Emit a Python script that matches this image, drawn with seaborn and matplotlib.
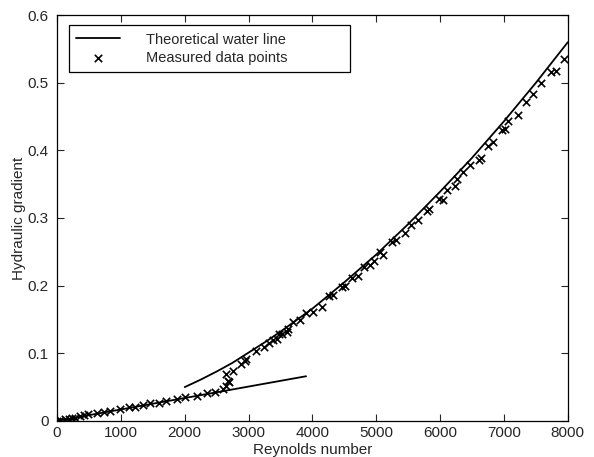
import numpy as np
import matplotlib
matplotlib.use("Agg")
import matplotlib.pyplot as plt
import seaborn as sns
import pandas as pd

# Theoretical lines
lam_re = [0, 3900]
lam_grad = [0.0, 0.066]
turb_re = [2000, 2250, 2500, 2750, 3000, 3250, 3500, 4000, 4500, 5000, 5500, 6000,
           6500, 7000, 7500, 8000]
turb_grad = [0.050, 0.061, 0.073, 0.086, 0.101, 0.116, 0.132, 0.166, 0.205, 0.246,
             0.291, 0.339, 0.389, 0.443, 0.500, 0.560]

# Measured data points
meas_re = [0, 52, 130, 182, 234, 286, 365, 417, 479, 625, 729, 833, 979, 1120, 1224,
           1354, 1458, 1604, 1708, 1875, 2005, 2188, 2347, 2477, 2607, 2650, 2686, 2670,
           2650, 2749, 2879, 2947, 2962, 3119, 3249, 3312, 3390, 3442, 3484, 3521, 3609,
           3625, 3703, 3808, 3901, 4016, 4147, 4266, 4329, 4460, 4512, 4617, 4721, 4809,
           4903, 4966, 5059, 5101, 5243, 5310, 5451, 5551, 5659, 5790, 5831, 5987, 6041,
           6103, 6233, 6260, 6363, 6468, 6614, 6635, 6755, 6823, 6964, 7016, 7068, 7224,
           7344, 7449, 7584, 7731, 7814, 7944]
meas_grad = [0.000, 0.001, 0.0025, 0.0035, 0.004, 0.005, 0.007, 0.009, 0.010, 0.011, 0.013,
             0.015, 0.017, 0.020, 0.021, 0.024, 0.026, 0.027, 0.030, 0.032, 0.035, 0.037,
             0.041, 0.043, 0.047, 0.052, 0.057, 0.059, 0.069, 0.074, 0.084, 0.088, 0.092,
             0.104, 0.109, 0.115, 0.120, 0.121, 0.129, 0.128, 0.132, 0.136, 0.146, 0.149,
             0.159, 0.161, 0.169, 0.184, 0.186, 0.198, 0.199, 0.211, 0.214, 0.227, 0.230,
             0.237, 0.249, 0.245, 0.265, 0.268, 0.278, 0.290, 0.297, 0.311, 0.313, 0.328,
             0.327, 0.341, 0.347, 0.357, 0.368, 0.378, 0.385, 0.389, 0.407, 0.412, 0.430,
             0.431, 0.444, 0.453, 0.471, 0.484, 0.499, 0.516, 0.517, 0.535]

sns.set_style("ticks")
plt.rcParams["font.family"] = ["Liberation Sans", "DejaVu Sans"]
plt.rcParams["xtick.direction"] = "in"
plt.rcParams["ytick.direction"] = "in"

fig = plt.figure(figsize=(5.94, 4.57), dpi=100)
ax = fig.add_axes([0.096, 0.079, 0.86, 0.888])

sns.lineplot(x=turb_re, y=turb_grad, color="black", lw=1.3, ax=ax,
             label="Theoretical water line")
sns.lineplot(x=lam_re, y=lam_grad, color="black", lw=1.3, ax=ax)
sns.scatterplot(x=meas_re, y=meas_grad, marker="x", color="black", s=28,
                linewidth=1.2, ax=ax, label="Measured data points")

ax.set_xlim(0, 8000)
ax.set_ylim(0, 0.6)
ax.set_xticks(range(0, 8001, 1000))
ax.set_yticks([0, 0.1, 0.2, 0.3, 0.4, 0.5, 0.6])
ax.set_yticklabels(["0", "0.1", "0.2", "0.3", "0.4", "0.5", "0.6"])
ax.tick_params(labelsize=11, length=5, width=0.8, top=True, right=True)
ax.tick_params(axis="y", pad=6)
ax.tick_params(axis="x", pad=4)
for s in ax.spines.values():
    s.set_linewidth(0.9)
    s.set_color("black")
ax.set_xlabel("Reynolds number", fontsize=11, labelpad=2)
ax.set_ylabel("Hydraulic gradient", fontsize=11, labelpad=1)

leg = ax.legend(loc="upper left", bbox_to_anchor=(0.0235, 0, 0.55, 0.975),
                mode="expand", borderaxespad=0, frameon=True, fancybox=False,
                edgecolor="black", framealpha=1, fontsize=10.5, handlelength=3,
                handletextpad=1.8, labelspacing=0.3, borderpad=0.5)
leg.get_frame().set_linewidth(0.9)

fig.savefig("out.png", dpi=100)
